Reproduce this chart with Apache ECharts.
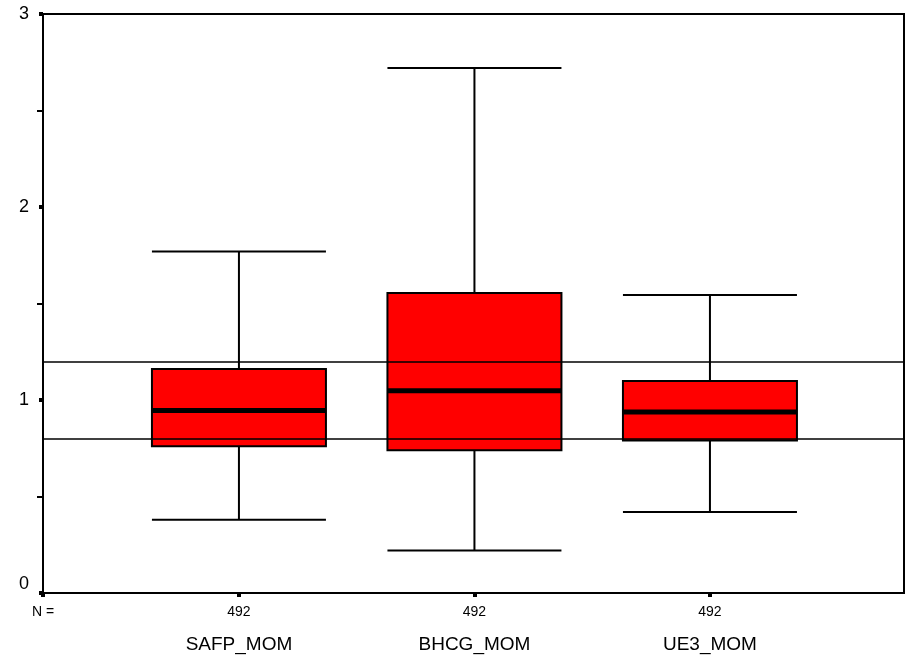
<!DOCTYPE html>
<html>
<head>
<meta charset="utf-8">
<title>Boxplot of MoM values</title>
<script src="https://cdn.jsdelivr.net/npm/echarts@6/dist/echarts.min.js"></script>
<style>
  html, body { margin: 0; padding: 0; background: #fff; }
  #chart { width: 911px; height: 660px; }
</style>
</head>
<body>
<div id="chart"></div>
<script>
// Variables and five-number summaries
const categories = ['SAFP_MOM', 'BHCG_MOM', 'UE3_MOM'];
const counts = [492, 492, 492];
const whiskerLow = [0.38, 0.22, 0.42];
const q1 = [0.76, 0.74, 0.79];
const median = [0.945, 1.048, 0.938];
const q3 = [1.16, 1.554, 1.098];
const whiskerHigh = [1.77, 2.72, 1.544];
// Reference band (MoM cut-offs)
const refLines = [0.8, 1.2];
// Y axis ticks
const yTicks = [0, 1, 2, 3];

// Box positions on the value x axis: 1, 2, 3
const positions = categories.map((_, i) => i + 1);
const xMin = 0.168;
const xMax = 3.824;

const boxData = positions.map((x, i) => [x, whiskerLow[i], q1[i], median[i], q3[i], whiskerHigh[i]]);
const medianData = positions.map((x, i) => [x, median[i]]);

const chart = echarts.init(document.getElementById('chart'), null, { renderer: 'canvas' });

const BOX_PX = 174;
const FONT = '"Liberation Sans", Arial, sans-serif';

chart.setOption({
  animation: false,
  backgroundColor: '#ffffff',
  textStyle: { fontFamily: FONT, color: '#000' },
  grid: {
    left: 43, top: 14, right: 7, bottom: 67,
    show: true, borderColor: '#000', borderWidth: 2, backgroundColor: 'transparent'
  },
  xAxis: {
    type: 'value',
    min: xMin,
    max: xMax,
    splitLine: { show: false },
    axisLine: { show: true, onZero: false, lineStyle: { color: '#000', width: 2 } },
    axisTick: {
      show: true,
      customValues: [xMin].concat(positions),
      length: 4,
      lineStyle: { color: '#000', width: 4 }
    },
    axisLabel: {
      show: true,
      customValues: [xMin].concat(positions),
      margin: 9,
      verticalAlign: 'top',
      formatter: function (v) {
        const idx = positions.indexOf(Math.round(v));
        if (Math.abs(v - xMin) < 1e-6 || idx < 0) return '{n|N =}';
        return '{n|' + counts[idx] + '}\n{c|' + categories[idx] + '}';
      },
      rich: {
        n: { fontSize: 14, lineHeight: 20, color: '#000', fontFamily: FONT },
        c: { fontSize: 19, lineHeight: 46, color: '#000', fontFamily: FONT }
      }
    }
  },
  yAxis: {
    type: 'value',
    min: yTicks[0],
    max: yTicks[yTicks.length - 1],
    interval: 1,
    splitLine: { show: false },
    axisLine: { show: true, onZero: false, lineStyle: { color: '#000', width: 2 } },
    axisTick: { show: true, length: 4, lineStyle: { color: '#000', width: 4 } },
    minorTick: { show: true, splitNumber: 2, length: 6, lineStyle: { color: '#000', width: 2 } },
    axisLabel: {
      margin: 14,
      fontSize: 18,
      color: '#000',
      fontFamily: FONT,
      verticalAlignMinLabel: 'bottom'
    }
  },
  series: [
    {
      type: 'boxplot',
      data: boxData,
      boxWidth: [BOX_PX, BOX_PX],
      itemStyle: { color: '#ff0000', borderColor: '#000', borderWidth: 2 },
      emphasis: { disabled: true },
      markLine: {
        silent: true,
        symbol: 'none',
        label: { show: false },
        lineStyle: { color: '#000', width: 1.5, type: 'solid' },
        data: refLines.map(v => ({ yAxis: v }))
      },
      z: 2
    },
    {
      type: 'custom',
      data: medianData,
      z: 4,
      renderItem: function (params, api) {
        const p = api.coord([api.value(0), api.value(1)]);
        const half = BOX_PX / 2;
        return {
          type: 'line',
          shape: { x1: p[0] - half, y1: p[1], x2: p[0] + half, y2: p[1] },
          style: { stroke: '#000', lineWidth: 5 }
        };
      }
    }
  ]
});
</script>
</body>
</html>
